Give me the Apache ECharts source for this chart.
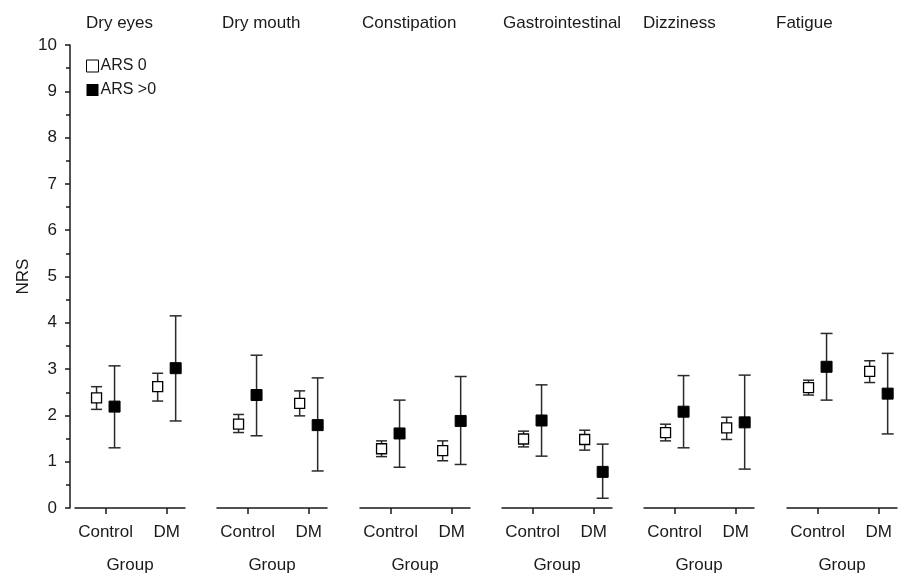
<!DOCTYPE html>
<html>
<head>
<meta charset="utf-8">
<script src="https://cdn.jsdelivr.net/npm/echarts@6/dist/echarts.min.js"></script>
<style>
  html, body { margin: 0; padding: 0; background: #fff; }
  #chart { width: 901px; height: 575px; }
</style>
</head>
<body>
<div id="chart"></div>
<script>
// symptoms (one panel each) and x groups
const categories = ['Dry eyes', 'Dry mouth', 'Constipation', 'Gastrointestinal', 'Dizziness', 'Fatigue'];
const groups = ['Control', 'DM'];
const yTicks = [0, 1, 2, 3, 4, 5, 6, 7, 8, 9, 10];

// ARS 0 : mean, lower, upper  -> [Control, DM] per symptom
const ars0Mean = [[2.38, 2.62], [1.81, 2.26], [1.28, 1.24], [1.49, 1.48], [1.63, 1.73], [2.60, 2.95]];
const ars0Low  = [[2.13, 2.31], [1.63, 1.99], [1.11, 1.02], [1.32, 1.25], [1.45, 1.48], [2.44, 2.71]];
const ars0High = [[2.62, 2.91], [2.02, 2.53], [1.45, 1.45], [1.66, 1.68], [1.81, 1.96], [2.76, 3.18]];

// ARS >0
const arsPosMean = [[2.19, 3.02], [2.44, 1.79], [1.61, 1.88], [1.89, 0.78], [2.08, 1.85], [3.05, 2.47]];
const arsPosLow  = [[1.30, 1.88], [1.56, 0.80], [0.88, 0.94], [1.12, 0.21], [1.30, 0.84], [2.33, 1.60]];
const arsPosHigh = [[3.07, 4.15], [3.30, 2.81], [2.33, 2.84], [2.66, 1.38], [2.86, 2.87], [3.77, 3.34]];

// layout
const gridLeft = [75, 217, 360, 502, 644, 787];
const titleLeft = [86, 222, 362, 503, 643, 776];
const FONT = '"Liberation Sans", Arial, sans-serif';
const INK = '#1a1a1a';

function errorBar(offset, filled) {
    return function (params, api) {
        const x = api.value(0);
        const c = api.coord([x, api.value(1)]);
        const lo = api.coord([x, api.value(2)]);
        const hi = api.coord([x, api.value(3)]);
        const px = c[0] + offset;
        const cap = filled ? 6 : 5.5;
        const half = filled ? 5.5 : 5;
        const line = { stroke: '#2a2a2a', lineWidth: 1.5 };
        return {
            type: 'group',
            children: [
                { type: 'line', shape: { x1: px, y1: hi[1], x2: px, y2: lo[1] }, style: line },
                { type: 'line', shape: { x1: px - cap, y1: hi[1], x2: px + cap, y2: hi[1] }, style: line },
                { type: 'line', shape: { x1: px - cap, y1: lo[1], x2: px + cap, y2: lo[1] }, style: line },
                {
                    type: 'rect',
                    shape: { x: px - half, y: c[1] - half, width: half * 2, height: half * 2 },
                    style: { fill: filled ? '#000' : '#fff', stroke: '#000', lineWidth: filled ? 1 : 1.3 }
                }
            ]
        };
    };
}

function rows(mean, low, high, i) {
    return groups.map((g, j) => [j + 1, mean[i][j], low[i][j], high[i][j]]);
}

const grids = [], xAxes = [], yAxes = [], series = [], titles = [];

categories.forEach((name, i) => {
    grids.push({ left: gridLeft[i], width: 110, top: 45, bottom: 67, outerBoundsMode: 'none' });
    titles.push({
        text: name, left: titleLeft[i], top: 15, padding: 0,
        textStyle: { fontFamily: FONT, fontSize: 17, fontWeight: 'normal', color: INK }
    });
    xAxes.push({
        type: 'value', gridIndex: i, min: 0.5, max: 2.3,
        name: 'Group', nameLocation: 'middle', nameGap: 49,
        nameTextStyle: { fontFamily: FONT, fontSize: 17, color: INK },
        axisLine: { show: true, lineStyle: { color: INK, width: 1.5 } },
        axisTick: { show: true, customValues: [1, 2], length: 6, lineStyle: { color: INK, width: 1.5 } },
        axisLabel: {
            customValues: [1, 2], margin: 16,
            formatter: v => groups[Math.round(v) - 1],
            fontFamily: FONT, fontSize: 17, color: INK
        },
        splitLine: { show: false }
    });
    yAxes.push({
        type: 'value', gridIndex: i, min: yTicks[0], max: yTicks[yTicks.length - 1], interval: 1,
        show: i === 0, offset: 5,
        name: i === 0 ? 'NRS' : '', nameLocation: 'middle', nameGap: 38, nameRotate: 90,
        nameTextStyle: { fontFamily: FONT, fontSize: 17, color: INK },
        axisLine: { show: true, lineStyle: { color: INK, width: 1.5 } },
        axisTick: { show: true, length: 5, lineStyle: { color: INK, width: 1.5 } },
        minorTick: { show: true, splitNumber: 2, length: 4, lineStyle: { color: INK, width: 1.5 } },
        axisLabel: { margin: 13, fontFamily: FONT, fontSize: 17, color: INK },
        splitLine: { show: false }
    });
    series.push({
        name: 'ARS 0', type: 'custom', xAxisIndex: i, yAxisIndex: i,
        itemStyle: { color: '#fff', borderColor: '#000', borderWidth: 1 },
        renderItem: errorBar(-9, false),
        encode: { x: 0, y: [1, 2, 3] },
        data: rows(ars0Mean, ars0Low, ars0High, i)
    });
    series.push({
        name: 'ARS >0', type: 'custom', xAxisIndex: i, yAxisIndex: i,
        itemStyle: { color: '#000' },
        renderItem: errorBar(9, true),
        encode: { x: 0, y: [1, 2, 3] },
        data: rows(arsPosMean, arsPosLow, arsPosHigh, i)
    });
});

const chart = echarts.init(document.getElementById('chart'), null, { renderer: 'canvas' });
chart.setOption({
    backgroundColor: '#fff',
    animation: false,
    title: titles,
    legend: {
        orient: 'vertical', left: 86, top: 58, padding: 0,
        itemWidth: 12, itemHeight: 12, itemGap: 8,
        icon: 'rect',
        textStyle: { fontFamily: FONT, fontSize: 16, color: INK, padding: [0, 0, 0, -3] },
        data: [
            { name: 'ARS 0', itemStyle: { color: '#fff', borderColor: '#000', borderWidth: 1 } },
            { name: 'ARS >0', itemStyle: { color: '#000' } }
        ]
    },
    grid: grids,
    xAxis: xAxes,
    yAxis: yAxes,
    series: series
});
</script>
</body>
</html>
